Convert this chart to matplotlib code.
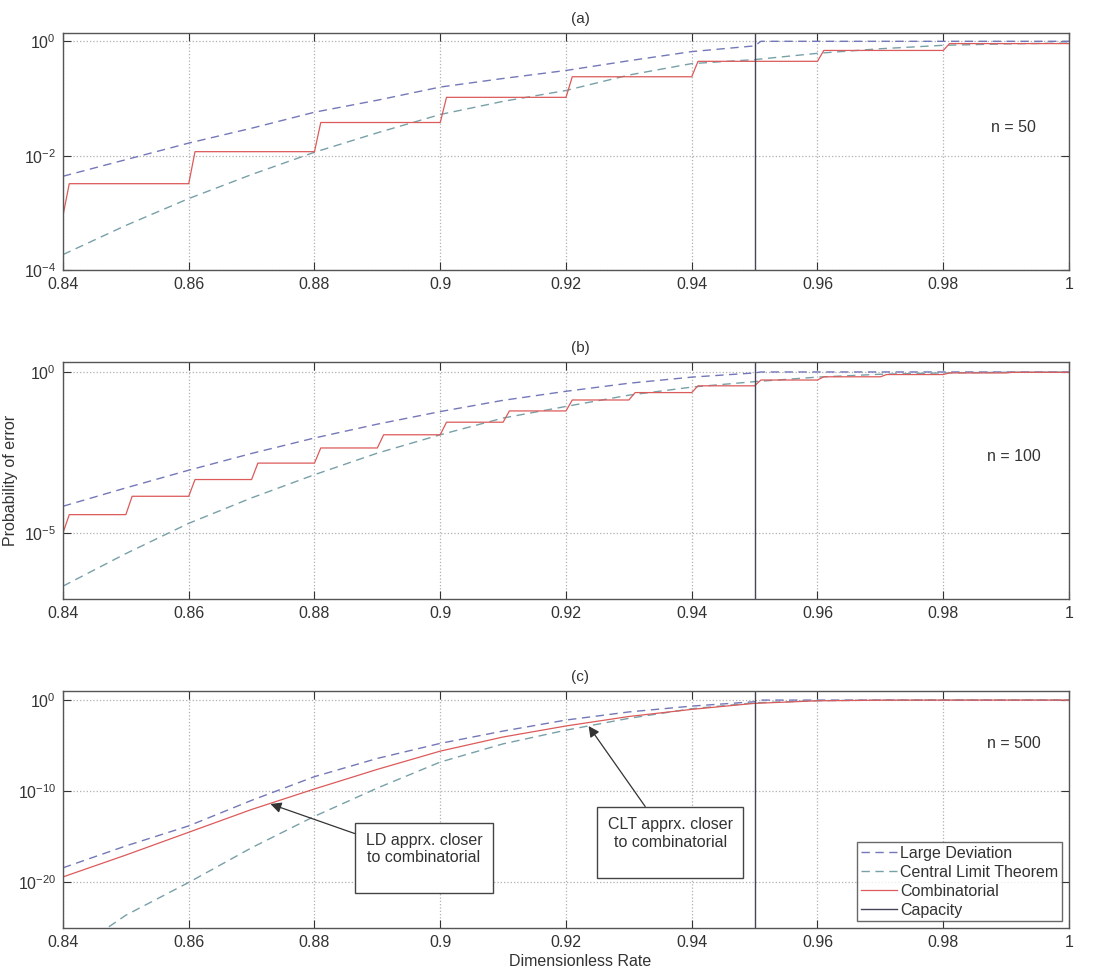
import numpy as np
import matplotlib
matplotlib.use("Agg")
import matplotlib.pyplot as plt

plt.rcParams['font.family'] = ['Liberation Sans', 'DejaVu Sans']
plt.rcParams['mathtext.default'] = 'regular'

# valori (log10 della probabilita' di errore)
rate = [0.84, 0.85, 0.86, 0.87, 0.88, 0.89, 0.90, 0.91, 0.92,
        0.93, 0.94, 0.95, 0.96, 0.97, 0.98, 0.99, 1.00]
capacity = 0.95

# large deviation fino alla capacita', poi 1
ld_rate = [0.84, 0.85, 0.86, 0.87, 0.88, 0.89, 0.90, 0.91, 0.92,
           0.93, 0.94, 0.95, 0.951, 1.00]
ld_a = [-2.36, -2.07, -1.78, -1.52, -1.24, -1.03, -0.80, -0.65, -0.51,
        -0.34, -0.18, -0.08, 0.0, 0.0]
ld_b = [-4.17, -3.60, -3.05, -2.53, -2.05, -1.62, -1.23, -0.88, -0.60,
        -0.35, -0.16, -0.03, 0.0, 0.0]
ld_c = [-18.4, -16.0, -13.8, -11.0, -8.4, -6.4, -4.75, -3.4, -2.19,
        -1.3, -0.66, -0.18, 0.0, 0.0]

# central limit theorem
clt_a = [-3.73, -3.22, -2.75, -2.33, -1.94, -1.60, -1.28, -1.05, -0.86,
         -0.59, -0.39, -0.32, -0.21, -0.13, -0.07, -0.045, -0.03]
clt_b = [-6.65, -5.64, -4.70, -3.91, -3.19, -2.52, -1.95, -1.43, -1.07,
         -0.72, -0.47, -0.30, -0.16, -0.07, -0.03, -0.01, -0.005]
clt_c = [-28.3, -23.6, -20.0, -16.2, -12.75, -9.65, -6.8, -4.8, -3.3,
         -2.0, -0.95, -0.30, -0.07, -0.01, 0.0, 0.0, 0.0]

# combinatorial: gradini (inizio, posizioni salti, livelli dopo i salti)
comb_a_start = -3.05
comb_a_edges = [0.84, 0.86, 0.88, 0.90, 0.92, 0.94, 0.96, 0.98]
comb_a_levels = [-2.49, -1.93, -1.42, -0.98, -0.62, -0.35, -0.16, -0.04]

comb_b_start = -5.0
comb_b_edges = [0.84, 0.85, 0.86, 0.87, 0.88, 0.89, 0.90, 0.91,
                0.92, 0.93, 0.94, 0.95, 0.96, 0.97, 0.98, 0.99]
comb_b_levels = [-4.43, -3.86, -3.34, -2.83, -2.36, -1.95, -1.56, -1.21,
                 -0.87, -0.64, -0.43, -0.25, -0.15, -0.08, -0.03, -0.01]

comb_c = [-19.4, -17.0, -14.5, -12.0, -9.75, -7.6, -5.6, -4.05, -2.84,
          -1.8, -1.02, -0.36, -0.08, -0.01, 0.0, 0.0, 0.0]

C_LD = '#7478b8'
C_CLT = '#78a0a8'
C_COMB = '#dc5a5a'
C_CAP = '#45455a'


def steps(start, edges, levels, end=1.0):
    # costruisco la curva a gradini (salto largo 0.001)
    xs, ys = [edges[0]], [start]
    for i, e in enumerate(edges):
        xs.append(e + 0.001)
        ys.append(levels[i])
        nxt = edges[i + 1] if i + 1 < len(edges) else end
        xs.append(nxt)
        ys.append(levels[i])
    return np.array(xs), 10.0 ** np.array(ys)


fig = plt.figure(figsize=(10.99, 9.71), dpi=100)
L, W, H = 0.0573, 0.9154, 0.2441
ax_a = fig.add_axes([L, 0.7219, W, H])
ax_b = fig.add_axes([L, 0.3831, W, H])
ax_c = fig.add_axes([L, 0.0443, W, H])

comb_a_x, comb_a_y = steps(comb_a_start, comb_a_edges, comb_a_levels)
comb_b_x, comb_b_y = steps(comb_b_start, comb_b_edges, comb_b_levels)

panels = [
    (ax_a, '(a)', 'n = 50', ld_a, clt_a, (comb_a_x, comb_a_y),
     (1e-4, 10 ** 0.145), [1e-4, 1e-2, 1e0], 0.60),
    (ax_b, '(b)', 'n = 100', ld_b, clt_b, (comb_b_x, comb_b_y),
     (10 ** -7.05, 10 ** 0.31), [1e-5, 1e0], 0.60),
    (ax_c, '(c)', 'n = 500', ld_c, clt_c,
     (np.array(rate), 10.0 ** np.array(comb_c)),
     (1e-25, 1e1), [1e-20, 1e-10, 1e0], 0.78),
]

for ax, title, ntext, ld, clt, comb, ylim, yt, ny in panels:
    h1, = ax.semilogy(ld_rate, 10.0 ** np.array(ld), '--', color=C_LD,
                      lw=1.0, dashes=(6, 4), label='Large Deviation')
    h2, = ax.semilogy(rate, 10.0 ** np.array(clt), '--', color=C_CLT,
                      lw=1.0, dashes=(6, 4), label='Central Limit Theorem')
    h3, = ax.semilogy(comb[0], comb[1], '-', color=C_COMB, lw=0.9,
                      label='Combinatorial')
    h4 = ax.axvline(capacity, color=C_CAP, lw=1.0, label='Capacity')
    ax.set_xlim(0.84, 1.0)
    ax.set_ylim(*ylim)
    ax.set_yticks(yt)
    ax.minorticks_off()
    ax.set_xticks(np.arange(0.84, 1.001, 0.02))
    ax.set_xticklabels(['0.84', '0.86', '0.88', '0.9', '0.92', '0.94',
                        '0.96', '0.98', '1'])
    ax.grid(True, ls=':', color='#b0b0b0', lw=0.9)
    ax.tick_params(direction='in', top=True, right=True, length=6,
                   labelsize=11.5, colors='#333333', pad=5)
    for s in ax.spines.values():
        s.set_color('#555555')
        s.set_linewidth(1.0)
    ax.set_title(title, fontsize=11, pad=7, color='#333333', x=0.514)
    ax.text(0.945, ny, ntext, transform=ax.transAxes, ha='center',
            va='center', fontsize=11.5, color='#333333')

ax_b.set_ylabel('Probability of error', fontsize=11.5, color='#333333',
                labelpad=4)
ax_c.set_xlabel('Dimensionless Rate', fontsize=11.5, color='#333333',
                labelpad=3, x=0.514)

bbox = dict(boxstyle='square,pad=0.65', fc='white', ec='#444444', lw=1.0)
arrow = dict(arrowstyle='-|>', color='#333333', lw=0.9,
             mutation_scale=16, shrinkA=0, shrinkB=0)
ax_c.annotate('LD apprx. closer\nto combinatorial\n', xy=(0.873, 10 ** -11.4),
              xytext=(0.8974, 10 ** -17.3), fontsize=11.5, ha='center',
              va='center', bbox=bbox, arrowprops=arrow, color='#333333')
ax_c.annotate('CLT apprx. closer\nto combinatorial\n', xy=(0.9236, 10 ** -2.85),
              xytext=(0.9366, 10 ** -15.6), fontsize=11.5, ha='center',
              va='center', bbox=bbox, arrowprops=arrow, color='#333333')

leg = ax_c.legend(handles=[h1, h2, h3, h4], loc='lower right',
                  fontsize=11.5, frameon=True, fancybox=False,
                  handlelength=2.3, handletextpad=0.2, borderpad=0.2,
                  labelspacing=0.25, borderaxespad=0.45)
leg.get_frame().set_edgecolor('#444444')
leg.get_frame().set_linewidth(1.0)
for t in leg.get_texts():
    t.set_color('#333333')

fig.savefig('out.png', dpi=100)
